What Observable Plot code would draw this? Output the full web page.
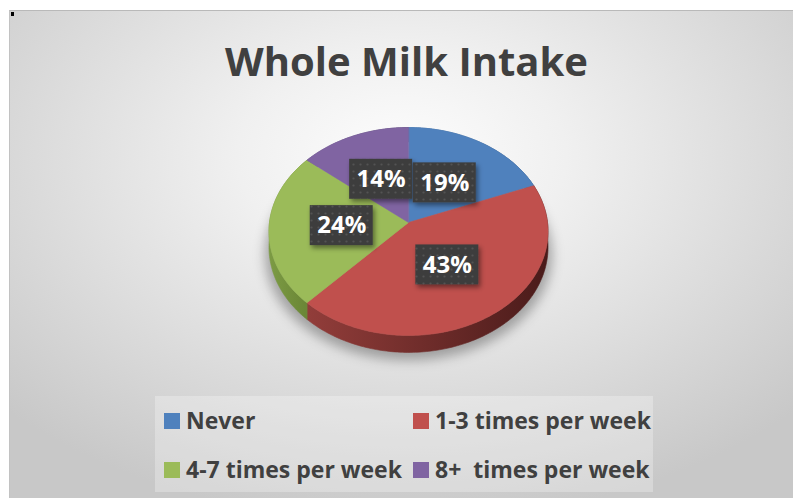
<!DOCTYPE html>
<html>
<head>
<meta charset="utf-8">
<script src="https://cdn.jsdelivr.net/npm/d3@7"></script>
<script src="https://cdn.jsdelivr.net/npm/@observablehq/plot@0.6"></script>
<style>
  body { margin: 0; background: #ffffff; }
  #wrap { position: relative; width: 793px; height: 498px; overflow: hidden; font-family: "Open Sans", sans-serif; }
  #bg { position: absolute; left: 9px; top: 10px; right: 0; bottom: 0;
        background: radial-gradient(ellipse 70% 75% at 50% 30%, #fdfdfd 0%, #f0f0f0 30%, #dcdcdc 65%, #c8c8c8 100%);
        border-top: 1px solid #b9b9b9; border-left: 1px solid #c2c2c2; }
  #dot { position: absolute; left: 11px; top: 12px; width: 3px; height: 4px; background: #000; }
  #legendbox { position: absolute; left: 155px; top: 396px; width: 498px; height: 96px; background: rgba(255,255,255,0.28); }
  #chart { position: absolute; left: 0; top: 0; }
  #title { position: absolute; left: 0; top: 41px; width: 813px; text-align: center; font-size: 40px; line-height: 40px;
           font-weight: 700; color: #404040; white-space: pre; }
  .leg { position: absolute; font-size: 23px; line-height: 23px; font-weight: 700; color: #404040; white-space: pre; }
  .sw { position: absolute; width: 16px; height: 16px; }
</style>
</head>
<body>
<div id="wrap">
  <div id="bg"></div>
  <div id="dot"></div>
  <div id="legendbox"></div>
  <div id="title"></div>
</div>
<script>
// ---- data ----
const chartTitle = "Whole Milk Intake";
const categories = ["Never", "1-3 times per week", "4-7 times per week", "8+  times per week"];
const percents = [19, 43, 24, 14];
const colors = ["#4f81bd", "#c0504d", "#9bbb59", "#8064a2"];
const sideColors = [["#45709f", "#2c4e78"], ["#923d3a", "#4a1b1a"], ["#7c9b44", "#6a8636"], ["#6c538a", "#463660"]];

// ---- 3D pie geometry (perspective tilt) ----
const K = 0.0865;      // perspective factor
const D = 0.15;        // extrusion depth (units)
const LABEL_R = 0.48;  // label radius fraction
const HW = 31.5 / 139, HH = 20 / 103.2; // label box half size in scale units

const total = d3.sum(percents);
let acc = 0;
const slices = categories.map((c, i) => {
  const a0 = acc / total * 2 * Math.PI; acc += percents[i];
  const a1 = acc / total * 2 * Math.PI;
  return {cat: c, value: percents[i], a0, a1, i};
});
function proj(t, r = 1) {
  const X = r * Math.sin(t), Z = r * Math.cos(t), w = 1 + K * Z;
  return {x: X / w, y: -Z / w, w};
}
function arcPts(a0, a1) {
  const n = Math.max(2, Math.ceil((a1 - a0) / (2 * Math.PI) * 360));
  return d3.range(n + 1).map(j => a0 + (a1 - a0) * j / n);
}
const topPts = slices.flatMap(s => [{cat: s.cat, x: 0, y: 0},
  ...arcPts(s.a0, s.a1).map(t => { const p = proj(t); return {cat: s.cat, x: p.x, y: p.y}; })]);
const sidePts = slices.map(s => {
  const ts = arcPts(s.a0, s.a1);
  const up = ts.map(t => proj(t));
  const down = ts.slice().reverse().map(t => { const p = proj(t); return {x: p.x, y: p.y + D / p.w}; });
  return [...up, ...down].map(p => ({cat: s.cat, x: p.x, y: p.y}));
});
const shadowPts = arcPts(0, 2 * Math.PI).map(t => { const p = proj(t); return {x: p.x * 1.03, y: p.y + (D + 0.07) / p.w}; });
const labels = slices.map(s => { const p = proj((s.a0 + s.a1) / 2, LABEL_R); return {cat: s.cat, text: `${s.value}%`, x: p.x, y: p.y}; });

const plot = Plot.plot({
  width: 793, height: 498, margin: 0,
  x: {domain: [-1, 1], range: [408 - 139, 408 + 139], axis: null},
  y: {domain: [-1, 1], range: [222 - 103.2, 222 + 103.2], axis: null},
  color: {domain: categories, range: colors},
  style: {background: "transparent", overflow: "visible"},
  marks: [
    Plot.line(shadowPts, {x: "x", y: "y", curve: "linear-closed", fill: "rgba(0,0,0,0.30)", stroke: "none"}),
    ...sidePts.map((pts, i) => Plot.line(pts, {x: "x", y: "y", curve: "linear-closed",
      fill: `url(#side${i})`, stroke: `url(#side${i})`, strokeWidth: 0.6})),
    Plot.line(topPts, {x: "x", y: "y", z: "cat", fill: "cat", stroke: "cat", strokeWidth: 0.6, curve: "linear-closed"}),
    Plot.rect(labels, {x1: d => d.x - HW, x2: d => d.x + HW, y1: d => d.y - HH, y2: d => d.y + HH, fill: "url(#dots)"}),
    Plot.text(labels, {x: "x", y: "y", text: "text", fill: "white", fontSize: 24, fontWeight: "bold", fontFamily: "Open Sans"})
  ]
});
plot.id = "chart";

const svg = d3.select(plot);
const markGroups = svg.selectAll(":scope > g").nodes();
const defs = svg.insert("defs", ":first-child");
sideColors.forEach((c, i) => {
  const g = defs.append("linearGradient").attr("id", `side${i}`).attr("x1", "0").attr("x2", "1").attr("y1", "0").attr("y2", "0");
  g.append("stop").attr("offset", "0%").attr("stop-color", c[0]);
  g.append("stop").attr("offset", "100%").attr("stop-color", c[1]);
});
const pat = defs.append("pattern").attr("id", "dots").attr("width", 7).attr("height", 7).attr("patternUnits", "userSpaceOnUse");
pat.append("rect").attr("width", 7).attr("height", 7).attr("fill", "#3d3d3d");
pat.append("circle").attr("cx", 3.5).attr("cy", 3.5).attr("r", 1.1).attr("fill", "#525252");
defs.append("filter").attr("id", "blur").attr("x", "-20%").attr("y", "-20%").attr("width", "140%").attr("height", "140%")
  .append("feGaussianBlur").attr("stdDeviation", 6);
defs.append("filter").attr("id", "dshadow").attr("x", "-20%").attr("y", "-20%").attr("width", "150%").attr("height", "160%")
  .append("feDropShadow").attr("dx", 2).attr("dy", 3).attr("stdDeviation", 2.5).attr("flood-color", "#000").attr("flood-opacity", 0.45);
if (markGroups[0]) markGroups[0].setAttribute("filter", "url(#blur)");
if (markGroups[6]) markGroups[6].setAttribute("filter", "url(#dshadow)");

const wrap = document.getElementById("wrap");
wrap.insertBefore(plot, document.getElementById("title"));
document.getElementById("title").textContent = chartTitle;

// ---- legend ----
categories.forEach((c, i) => {
  const col = i % 2, row = Math.floor(i / 2);
  const sx = [164, 413][col], tx = [186, 435][col];
  const baseline = [429, 478][row];
  const sw = document.createElement("div");
  sw.className = "sw"; sw.style.left = sx + "px"; sw.style.top = (baseline - 16) + "px"; sw.style.background = colors[i];
  wrap.appendChild(sw);
  const t = document.createElement("div");
  t.className = "leg"; t.style.left = tx + "px"; t.style.top = (baseline - 20.4) + "px"; t.textContent = c;
  wrap.appendChild(t);
});
</script>
</body>
</html>
